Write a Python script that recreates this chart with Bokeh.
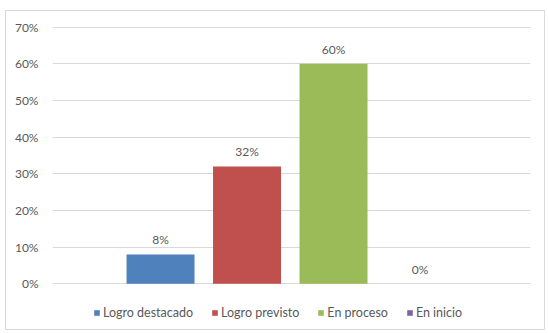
from bokeh.plotting import figure
from bokeh.models import (ColumnDataSource, FixedTicker, NumeralTickFormatter,
                          Legend, LegendItem, Range1d)
from bokeh.embed import file_html
from bokeh.resources import INLINE
from bokeh.core.properties import value

# Achievement levels and their shares
categories = ["Logro destacado", "Logro previsto", "En proceso", "En inicio"]
percentages = [0.08, 0.32, 0.60, 0.00]
colors = ["#4F81BD", "#C0504D", "#9BBB59", "#8064A2"]
y_ticks = [0.0, 0.1, 0.2, 0.3, 0.4, 0.5, 0.6, 0.7]

FONT = "Lato"
TEXT_COLOR = "#595959"
GRID_COLOR = "#D9D9D9"

positions = list(range(len(categories)))
labels = [f"{v:.0%}" for v in percentages]

# the plot frame reaches below zero so the legend can sit inside it
p = figure(width=540, height=320, output_backend="svg", toolbar_location=None,
           x_range=Range1d(-1.249, 4.277), y_range=Range1d(-0.1274, 0.7019),
           min_border_left=46, min_border_right=16,
           min_border_top=15, min_border_bottom=1)
p.margin = (10, 0, 0, 5)
p.styles = {"border": "1px solid #D9D9D9"}
p.outline_line_color = None

# y axis in percent, no axis line or ticks
p.yaxis.ticker = FixedTicker(ticks=y_ticks)
p.yaxis.formatter = NumeralTickFormatter(format="0%")
p.yaxis.axis_line_color = None
p.yaxis.major_tick_line_color = None
p.yaxis.minor_tick_line_color = None
p.yaxis.major_tick_out = 0
p.yaxis.major_label_standoff = 14
p.yaxis.major_label_text_font = FONT
p.yaxis.major_label_text_font_size = "12px"
p.yaxis.major_label_text_color = TEXT_COLOR
p.xaxis.visible = False
p.xgrid.grid_line_color = None
p.ygrid.ticker = FixedTicker(ticks=y_ticks)
p.ygrid.grid_line_color = GRID_COLOR
p.ygrid.grid_line_width = 1

items = []
for i, (cat, val, col) in enumerate(zip(categories, percentages, colors)):
    src = ColumnDataSource(dict(x=[positions[i]], top=[val]))
    r = p.vbar(x="x", top="top", bottom=0, width=0.786, source=src,
               fill_color=col, line_color=None)
    items.append(LegendItem(label=cat, renderers=[r]))

p.text(x=positions, y=percentages, text=labels,
       text_align="center", text_baseline="bottom", y_offset=-7,
       text_font=value(FONT), text_font_size="12px", text_color=TEXT_COLOR)

legend = Legend(items=items, orientation="horizontal", location=(41, 10),
                glyph_width=7, glyph_height=7, label_standoff=3, spacing=18,
                label_text_font=FONT, label_text_font_size="12.5px",
                label_text_color=TEXT_COLOR, border_line_color=None,
                background_fill_alpha=0, padding=0, margin=0)
p.add_layout(legend)

open("out.html", "w").write(file_html(p, INLINE))
